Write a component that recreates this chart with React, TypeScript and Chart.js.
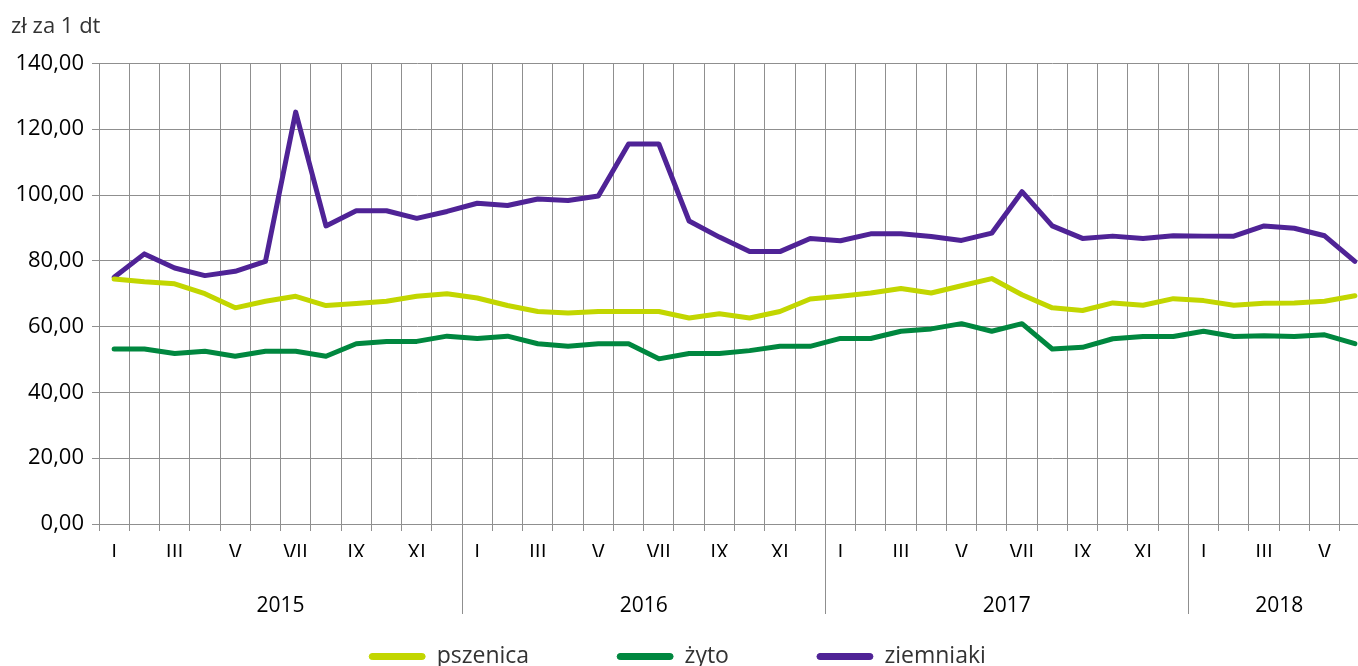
import React, { useEffect, useRef } from 'react';
import { Chart, registerables } from 'chart.js';

Chart.register(...registerables);

const monthNames = ['I', 'II', 'III', 'IV', 'V', 'VI', 'VII', 'VIII', 'IX', 'X', 'XI', 'XII'];
const years = ['2015', '2016', '2017', '2018'];
const monthsPerYear = [12, 12, 12, 6];
const categories = years.flatMap((_, k) => monthNames.slice(0, monthsPerYear[k]));

const pszenica = [
  74.5, 73.6, 73.0, 70.0, 65.7, 67.7, 69.2, 66.4, 67.0, 67.7, 69.2, 70.0,
  68.7, 66.4, 64.6, 64.1, 64.6, 64.6, 64.6, 62.6, 63.9, 62.6, 64.6, 68.4,
  69.2, 70.2, 71.6, 70.2, 72.4, 74.6, 69.7, 65.7, 64.9, 67.2, 66.5, 68.5,
  67.9, 66.5, 67.1, 67.2, 67.7, 69.4,
];
const zyto = [
  53.2, 53.2, 51.8, 52.5, 51.0, 52.5, 52.5, 51.0, 54.8, 55.5, 55.5, 57.1,
  56.4, 57.1, 54.8, 54.0, 54.8, 54.8, 50.2, 51.8, 51.8, 52.7, 54.0, 54.0,
  56.4, 56.4, 58.6, 59.3, 60.9, 58.6, 60.9, 53.2, 53.7, 56.3, 57.0, 57.0,
  58.6, 57.0, 57.2, 57.0, 57.5, 54.8,
];
const ziemniaki = [
  75.0, 82.1, 77.8, 75.5, 76.8, 79.8, 125.2, 90.6, 95.2, 95.2, 92.9, 95.0,
  97.5, 96.8, 98.8, 98.3, 99.7, 115.5, 115.5, 92.1, 87.2, 82.8, 82.8, 86.8,
  86.1, 88.2, 88.2, 87.4, 86.2, 88.4, 101.0, 90.6, 86.8, 87.5, 86.8, 87.6,
  87.5, 87.5, 90.6, 89.9, 87.6, 79.8,
];

const seriesNames = ['pszenica', 'żyto', 'ziemniaki'];
const seriesColors = ['#c2d600', '#00873f', '#4f2396'];
const yMin = 0;
const yMax = 140;
const yStep = 20;
const yTitle = 'zł za 1 dt';

const FONT = "'Open Sans', sans-serif";
const GRID = '#8f8f8f';
const LEGEND_SHIFT = -13;

const yearPlugin = {
  id: 'yearGroups',
  afterLayout(chart: any) {
    if (chart.legend) {
      chart.legend.left += LEGEND_SHIFT;
      chart.legend.right += LEGEND_SHIFT;
    }
  },
  afterDraw(chart: any) {
    const xs = chart.scales.x;
    const area = chart.chartArea;
    const ctx = chart.ctx;
    ctx.save();
    ctx.strokeStyle = GRID;
    ctx.lineWidth = 1;
    ctx.fillStyle = '#000';
    ctx.font = `21px ${FONT}`;
    ctx.textAlign = 'center';
    ctx.textBaseline = 'middle';
    let start = 0;
    years.forEach((yr, k) => {
      const end = start + monthsPerYear[k] - 1;
      const cx = (xs.getPixelForValue(start) + xs.getPixelForValue(end)) / 2;
      ctx.fillText(yr, cx, area.bottom + 82);
      if (k > 0) {
        const bx = Math.round((xs.getPixelForValue(start - 1) + xs.getPixelForValue(start)) / 2) + 0.5;
        ctx.beginPath();
        ctx.moveTo(bx, area.bottom);
        ctx.lineTo(bx, area.bottom + 90);
        ctx.stroke();
      }
      start = end + 1;
    });
    ctx.restore();
  },
};

export default function App() {
  const ref = useRef<HTMLCanvasElement>(null);

  useEffect(() => {
    if (!ref.current) return;
    const data = [pszenica, zyto, ziemniaki];
    const chart = new Chart(ref.current, {
      type: 'line',
      data: {
        labels: categories,
        datasets: seriesNames.map((name, i) => ({
          label: name,
          data: data[i],
          borderColor: seriesColors[i],
          backgroundColor: seriesColors[i],
          borderWidth: 5,
          pointRadius: 0,
          pointHoverRadius: 0,
          tension: 0,
          borderCapStyle: 'round',
          borderJoinStyle: 'round',
        })),
      },
      options: {
        responsive: false,
        animation: false,
        events: [],
        layout: { padding: { left: 11, right: 0, top: 0, bottom: 0 } },
        scales: {
          x: {
            type: 'category',
            offset: true,
            grid: { offset: true, color: GRID, tickLength: 7, lineWidth: 1 },
            border: { color: GRID },
            ticks: {
              autoSkip: false,
              maxRotation: 0,
              minRotation: 0,
              padding: 10,
              color: '#000',
              font: { family: FONT, size: 21 },
              callback: (_v: any, i: number) => (i % 2 === 0 ? categories[i] : ''),
            },
            afterFit: (s: any) => {
              s.height = 33;
            },
          },
          y: {
            min: yMin,
            max: yMax,
            grid: { color: GRID, tickLength: 7, lineWidth: 1 },
            border: { color: GRID },
            ticks: {
              stepSize: yStep,
              padding: 8,
              color: '#000',
              font: { family: FONT, size: 22 },
              callback: (v: any) => Number(v).toFixed(2).replace('.', ','),
            },
            afterFit: (s: any) => {
              s.width = 88;
            },
          },
        },
        plugins: {
          title: {
            display: true,
            text: yTitle,
            align: 'start',
            color: '#333',
            font: { family: FONT, size: 22, weight: 'normal' },
            padding: { top: 14, bottom: 23 },
          },
          legend: {
            display: true,
            position: 'bottom',
            labels: {
              boxWidth: 56,
              boxHeight: 6,
              padding: 88,
              color: '#333',
              font: { family: FONT, size: 23 },
              useBorderRadius: true,
              borderRadius: 3,
              generateLabels: (c: any) =>
                (Chart.defaults.plugins.legend.labels.generateLabels as any)(c).map((l: any, i: number) => ({
                  ...l,
                  fillStyle: seriesColors[i],
                  strokeStyle: seriesColors[i],
                  lineWidth: 1,
                })),
            },
          },
          tooltip: { enabled: false },
        },
      } as any,
      plugins: [yearPlugin],
    });
    return () => chart.destroy();
  }, []);

  return (
    <div style={{ position: 'fixed', left: 0, top: 0, width: 1358, height: 666, overflow: 'hidden', background: '#fff' }}>
      <canvas ref={ref} width={1370} height={678} style={{ display: 'block' }} />
    </div>
  );
}
